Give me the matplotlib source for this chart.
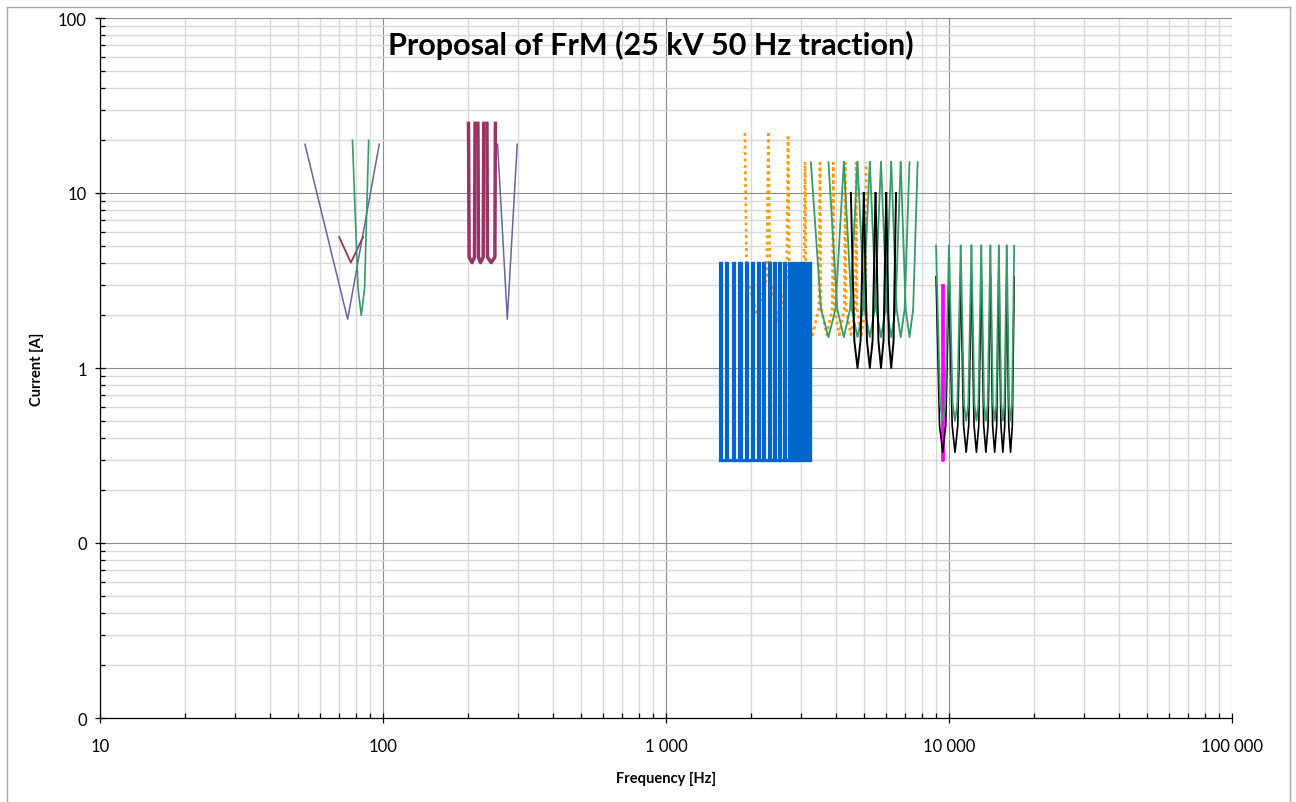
import numpy as np
import matplotlib
matplotlib.use("Agg")
import matplotlib.pyplot as plt
from matplotlib.ticker import LogLocator, FuncFormatter, NullFormatter
from matplotlib.lines import Line2D

plt.rcParams['font.family'] = ['Lato', 'DejaVu Sans']

# ---------------- data ----------------
TITLE = "Proposal of FrM (25 kV 50 Hz traction)"
X_LABEL = "Frequency [Hz]"
Y_LABEL = "Current [A]"

x_ticks = [10, 100, 1000, 10000, 100000]
y_ticks = [0.01, 0.1, 1, 10, 100]

# low-frequency V curves
slate_v1_f = [53, 75, 97]
slate_v1_i = [19, 1.9, 19]
slate_v2_f = [254, 275, 298]
slate_v2_i = [19, 1.9, 19]
maroon_v_f = [70, 77, 85]
maroon_v_i = [5.6, 4.0, 5.6]
green_v_f = [78, 81.6, 83.8, 86.1, 89]
green_v_i = [20, 2.85, 2.0, 2.85, 20]

# maroon narrow band-stops around 200-250 Hz
maroon_u_lo = [200.5, 216.5, 233.0]
maroon_u_mid = [206.5, 221.0, 241.0]
maroon_u_hi = [211.5, 227.0, 249.5]
maroon_u_top = 25
maroon_u_sh = 4.3
maroon_u_bot = 4.0

# blue bars 1.5 - 3.3 kHz
blue_lo = [1550, 1632, 1722, 1817, 1914, 2011, 2111, 2208, 2318, 2414, 2514,
           2613, 2713, 2812, 2907, 3001, 3096, 3195]
blue_hi = [1566, 1648, 1738, 1835, 1932, 2029, 2131, 2228, 2338, 2436, 2536,
           2637, 2737, 2838, 2933, 3029, 3124, 3218]
blue_top = 4.0
blue_bot = 0.3

# orange dotted filters
orange_walls = [1900, 2300, 2700, 3100, 3500, 3900, 4300, 4700, 5100]
orange_wall_i = [22, 22, 21, 15, 15, 15, 15, 15, 15]
orange_centres = [2100, 2500, 2900, 3300, 3700, 4100, 4500, 4900]
orange_sh_i = [3.3, 3.3, 3.0, 2.2, 2.2, 2.2, 2.2, 2.2]
orange_bot_i = [2.0, 1.8, 1.7, 1.55, 1.55, 1.55, 1.55, 1.55]
orange_sh_df = 30

# green filters 3.25 - 7.75 kHz (overlapping)
green_l_centres = [3750, 4250, 4750, 5250, 5750, 6250, 6750, 7250]
green_l_half = 500
green_l_sh_df = 280
green_l_top, green_l_sh, green_l_bot = 15, 2.17, 1.5

# black filters 4.5 - 6.5 kHz
black_l_centres = [4750, 5250, 5750, 6250]
black_l_half = 250
black_l_sh_df = 130
black_l_top, black_l_sh, black_l_bot = 10, 1.43, 1.0

# green filters 9 - 17 kHz
green_r_centres = [9500, 10500, 11500, 12500, 13500, 14500, 15500, 16500]
green_r_half = 500
green_r_sh_df = 300
green_r_top, green_r_sh, green_r_bot = 5, 0.62, 0.5

# black filters 9 - 17 kHz
black_r_centres = [9500, 10500, 11500, 12500, 13500, 14500, 15500, 16500]
black_r_half = 500
black_r_sh_df = 260
black_r_top, black_r_sh, black_r_bot = 3.33, 0.47, 0.33

# magenta
magenta_f = [9460, 9460, 9500, 9500]
magenta_i = [3.0, 0.3, 0.3, 3.0]

# ---------------- colours ----------------
C_SLATE = '#66669f'
C_MAROON = '#993366'
C_GREEN = '#359b68'
C_BLUE = '#0066cc'
C_ORANGE = '#ff9900'
C_BLACK = '#000000'
C_MAGENTA = '#ff00ff'

W, H = 1296, 803
fig = plt.figure(figsize=(W / 100, H / 100), dpi=100)
L, R, T, B = 100, 1232, 19, 719
ax = fig.add_axes([L / W, 1 - B / H, (R - L) / W, (B - T) / H])
ax.set_xscale('log')
ax.set_yscale('log')
ax.set_xlim(10, 100000)
ax.set_ylim(0.01, 100)


def filt(fc, half, sh_df, top_l, top_r, sh, bot, **kw):
    f = [fc - half, fc - half + sh_df, fc, fc + half - sh_df, fc + half]
    i = [top_l, sh, bot, sh, top_r]
    ax.plot(f, i, **kw)


# orange (bottom layer)
for k, fc in enumerate(orange_centres):
    f = [orange_walls[k], orange_walls[k] + orange_sh_df, fc,
         orange_walls[k + 1] - orange_sh_df, orange_walls[k + 1]]
    i = [orange_wall_i[k], orange_sh_i[k], orange_bot_i[k], orange_sh_i[k],
         orange_wall_i[k + 1]]
    ax.plot(f, i, color=C_ORANGE, lw=2.0, ls=(0, (1, 1.3)), zorder=2,
            solid_capstyle='butt', dash_capstyle='butt')

# blue bars
for lo, hi in zip(blue_lo, blue_hi):
    ax.plot([lo, lo, hi, hi], [blue_top, blue_bot, blue_bot, blue_top],
            color=C_BLUE, lw=2.3, zorder=3, solid_joinstyle='miter')
ax.plot([blue_lo[0], blue_hi[-1]], [blue_bot, blue_bot], color=C_BLUE, lw=2.3,
        zorder=3)

# low-frequency curves
ax.plot(slate_v1_f, slate_v1_i, color=C_SLATE, lw=1.1, zorder=4)
ax.plot(slate_v2_f, slate_v2_i, color=C_SLATE, lw=1.1, zorder=4)
ax.plot(maroon_v_f, maroon_v_i, color=C_MAROON, lw=1.3, zorder=4)
ax.plot(green_v_f, green_v_i, color=C_GREEN, lw=1.2, zorder=4)
for lo, mid, hi in zip(maroon_u_lo, maroon_u_mid, maroon_u_hi):
    ax.plot([lo, lo + 1, mid, hi - 1, hi],
            [maroon_u_top, maroon_u_sh, maroon_u_bot, maroon_u_sh, maroon_u_top],
            color=C_MAROON, lw=2.5, zorder=4)

# magenta
ax.plot(magenta_f, magenta_i, color=C_MAGENTA, lw=2.0, zorder=4)

# green and black filter families
for fc in green_l_centres:
    filt(fc, green_l_half, green_l_sh_df, green_l_top, green_l_top, green_l_sh,
         green_l_bot, color=C_GREEN, lw=1.3, zorder=5)
for fc in black_l_centres:
    filt(fc, black_l_half, black_l_sh_df, black_l_top, black_l_top, black_l_sh,
         black_l_bot, color=C_BLACK, lw=1.4, zorder=6)
for fc in black_r_centres:
    filt(fc, black_r_half, black_r_sh_df, black_r_top, black_r_top, black_r_sh,
         black_r_bot, color=C_BLACK, lw=1.2, zorder=5)
for fc in green_r_centres:
    filt(fc, green_r_half, green_r_sh_df, green_r_top, green_r_top, green_r_sh,
         green_r_bot, color=C_GREEN, lw=1.3, zorder=6)

# ---------------- axes styling ----------------
ax.set_axisbelow(True)
ax.xaxis.set_minor_locator(LogLocator(base=10, subs=np.arange(2, 10), numticks=50))
ax.yaxis.set_minor_locator(LogLocator(base=10, subs=np.arange(2, 10), numticks=50))
ax.xaxis.set_minor_formatter(NullFormatter())
ax.yaxis.set_minor_formatter(NullFormatter())
ax.set_xticks(x_ticks)
ax.set_yticks(y_ticks)
ax.xaxis.set_major_formatter(FuncFormatter(lambda v, p: f"{v:,.0f}".replace(",", " ")))
ax.yaxis.set_major_formatter(FuncFormatter(lambda v, p: f"{v:.0f}"))

ax.grid(which='minor', color='#d9d9d9', lw=1.0)
ax.grid(which='major', color='#8c8c8c', lw=0.8)

for s in ['top', 'right']:
    ax.spines[s].set_visible(False)
for s in ['left', 'bottom']:
    ax.spines[s].set_color('#000000')
    ax.spines[s].set_linewidth(0.9)
    ax.spines[s].set_zorder(7)

ax.tick_params(which='major', direction='inout', length=7, width=0.9,
               colors='#000000', labelsize=12)
ax.tick_params(which='minor', direction='in', length=3.6, width=0.9,
               colors='#000000')
ax.tick_params(axis='x', which='major', pad=11)
ax.tick_params(axis='y', which='major', pad=6)

fig.text(651 / W, 1 - 45 / H, TITLE, ha='center', va='center',
         fontsize=22, fontweight='bold')
fig.text(666 / W, 1 - 779 / H, X_LABEL, ha='center', va='center',
         fontsize=10.5, fontweight='bold')
fig.text(37 / W, 1 - 369 / H, Y_LABEL, ha='center', va='center',
         fontsize=10.5, fontweight='bold', rotation=90)

# outer chart border
bc = '#a6a6a6'
x0, x1, y0, y1 = 7 / W, 1290 / W, 1 - 8 / H, 1 - 802 / H
for xs, ys in [([x0, x1], [y0, y0]), ([x0, x0], [y0, y1]), ([x1, x1], [y0, y1])]:
    fig.add_artist(Line2D(xs, ys, transform=fig.transFigure, color=bc, lw=1.0))

fig.savefig('out.png', dpi=100)
